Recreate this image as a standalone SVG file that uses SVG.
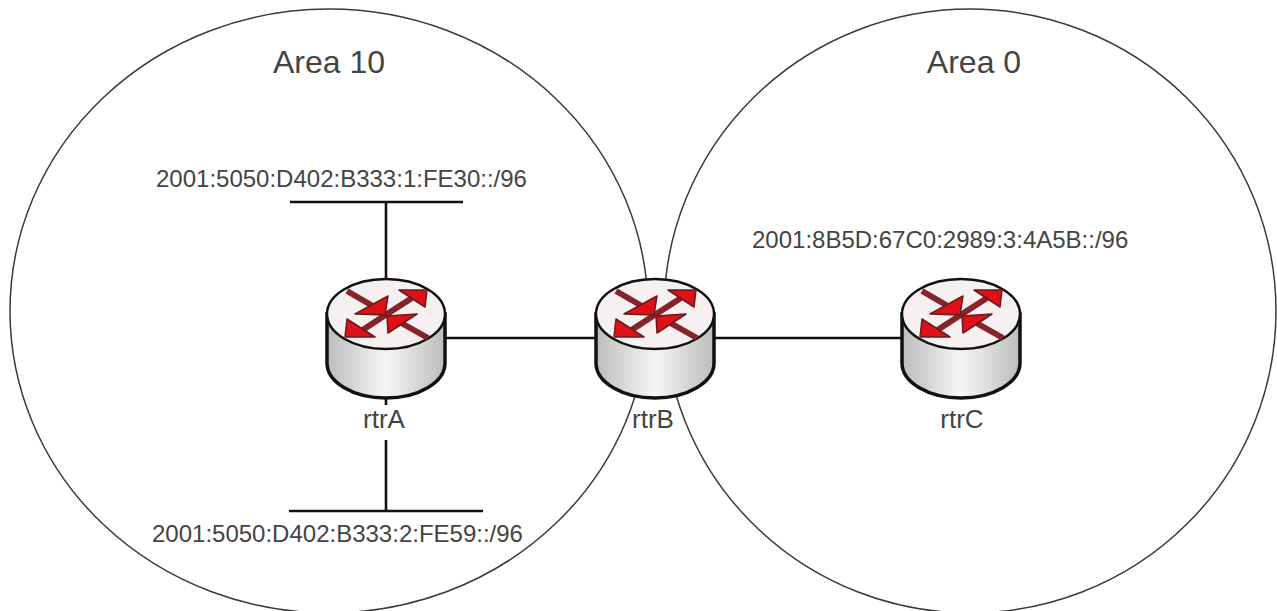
<svg xmlns="http://www.w3.org/2000/svg" width="1277" height="611" viewBox="0 0 1277 611">
<style>
.area{fill:none;stroke:#3a3a3a;stroke-width:1.5}
.wire{fill:none;stroke:#111;stroke-width:2.6}
text{font-family:"Liberation Sans",Arial,sans-serif;fill:#444}
.big{font-size:32px}
.net{font-size:24px}
.name{font-size:26px}
.body{fill:url(#cyl);stroke:#111;stroke-width:3.5}
.top{fill:#f6f0f0;stroke:#111;stroke-width:2.5}
.ar{fill:#e01018;stroke:#6a1a1a;stroke-width:1.5;stroke-linejoin:round}
.sh{fill:none;stroke:#86242a;stroke-width:6}
</style>
<defs>
<linearGradient id="cyl" x1="0" x2="1" y1="0" y2="0">
<stop offset="0" stop-color="#bcbcbc"/><stop offset="0.5" stop-color="#f6f6f6"/><stop offset="1" stop-color="#bcbcbc"/>
</linearGradient>
<g id="router">
<path class="body" d="M-59 0V49A59 35 0 0 0 59 49V0Z"/>
<ellipse class="top" cx="0" cy="0" rx="59" ry="35"/>
<path class="sh" d="M-39 -23L-8 -5M42 24L10 6M-2 2L26 -16M-2 2L-25 17"/>
<polygon class="ar" points="-1,1 2,-18 -31,0"/>
<polygon class="ar" points="1,2 31,0 2,19"/>
<polygon class="ar" points="41,-24 13,-24 39,-7"/>
<polygon class="ar" points="-41,23 -39,5 -11,23"/>
</g>
</defs>
<g id="connectors">
<path class="wire" d="M290 202H463M386 202V280M386 396V405M386 440V511M289 511H483M445 338H596M714 338H903"/>
</g>
<g id="area10"><ellipse class="area" cx="329" cy="311" rx="319" ry="302"/><text class="big" x="329" y="73" text-anchor="middle">Area 10</text></g>
<g id="area0"><ellipse class="area" cx="970" cy="311" rx="306" ry="302"/><text class="big" x="974" y="73" text-anchor="middle">Area 0</text></g>
<g id="net1"><text class="net" x="156" y="187">2001:5050:D402:B333:1:FE30::/96</text></g>
<g id="net2"><text class="net" x="152" y="542">2001:5050:D402:B333:2:FE59::/96</text></g>
<g id="net3"><text class="net" x="752" y="248">2001:8B5D:67C0:2989:3:4A5B::/96</text></g>
<g id="rtrA"><use href="#router" x="386" y="314"/><text class="name" x="384" y="428" text-anchor="middle">rtrA</text></g>
<g id="rtrB"><use href="#router" x="655" y="314"/><text class="name" x="653" y="428" text-anchor="middle">rtrB</text></g>
<g id="rtrC"><use href="#router" x="961" y="314"/><text class="name" x="962" y="428" text-anchor="middle">rtrC</text></g>
</svg>
